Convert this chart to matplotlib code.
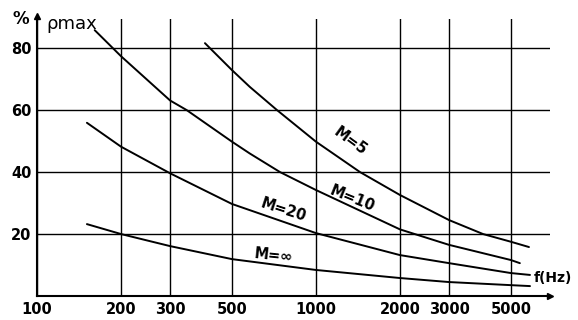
import matplotlib.pyplot as plt

plt.rcParams['font.family'] = ['DejaVu Sans']

# 数据
f_m5 = [400, 500, 579, 725, 1000, 1438, 2000, 3000, 3970, 5000, 5800]
p_m5 = [81.6, 72.9, 67.5, 60.0, 49.8, 40.0, 32.6, 24.5, 20.0, 17.5, 15.8]

f_m10 = [161, 200, 300, 344, 500, 579, 743, 1000, 2000, 3000, 5000, 5380]
p_m10 = [85.8, 77.4, 63.1, 60.0, 49.8, 46.0, 40.0, 34.2, 21.5, 16.5, 11.6, 10.6]

f_m20 = [151, 200, 300, 500, 1000, 2000, 3000, 5000, 5850]
p_m20 = [55.9, 48.2, 39.6, 29.7, 20.3, 13.2, 10.6, 7.4, 6.8]

f_minf = [151, 200, 300, 500, 1000, 2000, 3000, 5000, 5850]
p_minf = [23.2, 20.0, 16.1, 11.9, 8.4, 5.8, 4.5, 3.5, 3.2]

xticks = [100, 200, 300, 500, 1000, 2000, 3000, 5000]
yticks = [20, 40, 60, 80]

fig = plt.figure(figsize=(5.78, 3.2), dpi=100)
ax = fig.add_axes([37 / 578, 24 / 320, 513 / 578, 277 / 320])

ax.set_xscale('log')
ax.set_xlim(100, 6900)
ax.set_ylim(0, 89.4)

for f, p in [(f_m5, p_m5), (f_m10, p_m10), (f_m20, p_m20), (f_minf, p_minf)]:
    ax.plot(f, p, color='black', lw=1.4, solid_capstyle='round')

# 网格
ax.set_xticks(xticks)
ax.set_xticklabels([str(v) for v in xticks], fontsize=10.5, fontweight='bold')
ax.minorticks_off()
ax.set_yticks(yticks)
ax.set_yticklabels([str(v) for v in yticks], fontsize=10.5, fontweight='bold')
ax.tick_params(length=0, pad=4)
ax.grid(True, color='black', lw=1.0)

for s in ['top', 'right']:
    ax.spines[s].set_visible(False)
for s in ['left', 'bottom']:
    ax.spines[s].set_linewidth(1.5)

# 坐标轴箭头
ax.plot(1, 0, '>', color='black', ms=5, transform=ax.transAxes, clip_on=False)
ax.plot(0, 1.01, '^', color='black', ms=5, transform=ax.transAxes, clip_on=False)

# 曲线标注
ax.text(1330, 50.0, 'M=5', rotation=-36, ha='center', va='center', fontsize=10.5, fontweight='bold')
ax.text(1346, 31.3, 'M=10', rotation=-22, ha='center', va='center', fontsize=10.5, fontweight='bold')
ax.text(767, 27.7, 'M=20', rotation=-18, ha='center', va='center', fontsize=10.5, fontweight='bold')
ax.text(701, 13.2, 'M=∞', rotation=-6, ha='center', va='center', fontsize=10.5, fontweight='bold')

fig.text(21 / 578, 1 - 19 / 320, '%', ha='center', va='center', fontsize=12, fontweight='bold')
fig.text(46 / 578, 1 - 24 / 320, 'ρmax', ha='left', va='center', fontsize=13)
fig.text(534 / 578, 1 - 278 / 320, 'f(Hz)', ha='left', va='center', fontsize=10, fontweight='bold')

fig.savefig('out.png', dpi=100)
